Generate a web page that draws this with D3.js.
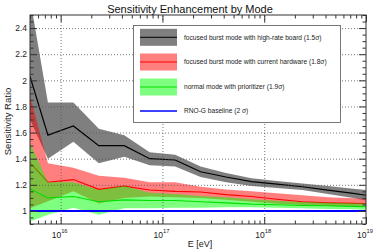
<!DOCTYPE html>
<html><head><meta charset="utf-8">
<script src="https://cdn.jsdelivr.net/npm/d3@7"></script>
<style>body{margin:0;background:#fff} svg{display:block;font-family:"Liberation Sans",Arial,sans-serif}</style>
</head><body><svg id="c" width="378" height="249"></svg>
<script>
// ---- data ----
const energies = [5e15, 7.5e15, 1.334e16, 2.371e16, 4.217e16, 7.499e16, 1.334e17, 2.371e17, 4.217e17, 7.499e17, 1.334e18, 2.371e18, 4.217e18, 7.499e18, 1e19];
const highRateCenter = [2.03, 1.58, 1.65, 1.50, 1.50, 1.40, 1.39, 1.30, 1.26, 1.225, 1.205, 1.185, 1.16, 1.135, 1.12];
const highRateUpper  = [2.63, 1.83, 1.83, 1.63, 1.58, 1.45, 1.43, 1.34, 1.29, 1.25, 1.23, 1.21, 1.19, 1.17, 1.16];
const highRateLower  = [1.70, 1.40, 1.53, 1.365, 1.415, 1.35, 1.34, 1.26, 1.22, 1.19, 1.175, 1.16, 1.13, 1.10, 1.08];
const currentCenter  = [1.37, 1.22, 1.24, 1.165, 1.19, 1.16, 1.15, 1.145, 1.125, 1.11, 1.09, 1.07, 1.062, 1.058, 1.057];
const currentUpper   = [1.88, 1.365, 1.33, 1.27, 1.255, 1.22, 1.22, 1.185, 1.165, 1.15, 1.135, 1.12, 1.105, 1.097, 1.093];
const currentLower   = [1.02, 1.075, 1.15, 1.057, 1.10, 1.11, 1.105, 1.10, 1.085, 1.07, 1.055, 1.045, 1.038, 1.033, 1.03];
const normalCenter   = [1.17, 1.10, 1.11, 1.07, 1.085, 1.08, 1.08, 1.07, 1.062, 1.052, 1.047, 1.042, 1.04, 1.035, 1.032];
const normalUpper    = [1.52, 1.22, 1.22, 1.16, 1.19, 1.14, 1.13, 1.115, 1.105, 1.09, 1.078, 1.068, 1.062, 1.058, 1.057];
const normalLower    = [0.92, 0.97, 1.025, 0.97, 1.02, 1.02, 1.025, 1.025, 1.028, 1.028, 1.025, 1.02, 1.015, 1.012, 1.01];
const baselineValue = 1.0;
const seriesNames = ["focused burst mode with high-rate board (1.5\u03c3)", "focused burst mode with current hardware (1.8\u03c3)", "normal mode with prioritizer (1.9\u03c3)", "RNO-G baseline (2 \u03c3)"];
const yMajor = [1.0, 1.2, 1.4, 1.6, 1.8, 2.0, 2.2, 2.4];
const yTickLabels = ["1", "1.2", "1.4", "1.6", "1.8", "2", "2.2", "2.4"];
const xMajor = [1e16, 1e17, 1e18, 1e19];
const xTickExponents = ["16", "17", "18", "19"];

// ---- setup ----
const svg = d3.select("#c");
const L = 30, R = 366, T = 15, B = 224;
const x = d3.scaleLog().domain([5e15, 1e19]).range([L, R]);
const y = d3.scaleLinear().domain([0.9, 2.5]).range([B, T]);

svg.append("rect").attr("width", 378).attr("height", 249).attr("fill", "#fff");
svg.append("defs").append("clipPath").attr("id", "clip")
  .append("rect").attr("x", L).attr("y", T).attr("width", R - L).attr("height", B - T);

const plot = svg.append("g").attr("clip-path", "url(#clip)");

function band(lo, hi, color) {
  const a = d3.area().x((d, i) => x(energies[i])).y0((d, i) => y(lo[i])).y1((d, i) => y(hi[i]));
  plot.append("path").datum(energies).attr("d", a).attr("fill", color).attr("fill-opacity", 0.5);
}
function line(vals, color, w) {
  const l = d3.line().x((d, i) => x(energies[i])).y((d, i) => y(vals[i]));
  plot.append("path").datum(energies).attr("d", l).attr("fill", "none").attr("stroke", color).attr("stroke-width", w);
}
band(highRateLower, highRateUpper, "#000");
line(highRateCenter, "#000", 1.2);
band(currentLower, currentUpper, "#ff0000");
line(currentCenter, "#ff0000", 1.1);
band(normalLower, normalUpper, "#00ff00");
line(normalCenter, "#00e000", 1.1);
plot.append("line").attr("x1", L).attr("x2", R).attr("y1", y(baselineValue)).attr("y2", y(baselineValue))
  .attr("stroke", "#0000ff").attr("stroke-width", 2);

// ---- grid ----
function styleGrid(g) { g.select(".domain").remove(); g.selectAll("line").attr("stroke", "#555").attr("stroke-width", 0.8).attr("stroke-dasharray", "1,2"); }
svg.append("g").attr("transform", `translate(${L},0)`)
  .call(d3.axisLeft(y).tickValues(yMajor.slice(1)).tickSize(-(R - L)).tickFormat("")).call(styleGrid);
svg.append("g").attr("transform", `translate(0,${B})`)
  .call(d3.axisBottom(x).tickValues(xMajor.slice(0, 3)).tickSize(-(B - T)).tickFormat("")).call(styleGrid);

// ---- axes ticks ----
const yMinor = d3.range(0.9, 2.5001, 0.05).filter(v => !yMajor.some(m => Math.abs(m - v) < 1e-6));
const xMinor = [];
[1e15, 1e16, 1e17, 1e18].forEach(d => { for (let k = 2; k <= 9; k++) { const v = d * k; if (v >= 5e15 && v <= 1e19) xMinor.push(v); } });

function styleAxis(g) { g.select(".domain").remove(); g.selectAll("line").attr("stroke", "#333").attr("stroke-width", 1); }
svg.append("g").attr("transform", `translate(${L},0)`)
  .call(d3.axisLeft(y).tickValues(yMajor).tickSize(-7).tickPadding(3).tickFormat((d, i) => yTickLabels[i]))
  .call(styleAxis)
  .call(g => g.selectAll("text").attr("font-size", 8.5).attr("fill", "#222").attr("font-family", "Liberation Sans, Arial, sans-serif"));
svg.append("g").attr("transform", `translate(${L},0)`)
  .call(d3.axisLeft(y).tickValues(yMinor).tickSize(-3.5).tickFormat("")).call(styleAxis);
svg.append("g").attr("transform", `translate(${R},0)`)
  .call(d3.axisRight(y).tickValues(yMajor).tickSize(-7).tickFormat("")).call(styleAxis);
svg.append("g").attr("transform", `translate(${R},0)`)
  .call(d3.axisRight(y).tickValues(yMinor).tickSize(-3.5).tickFormat("")).call(styleAxis);
svg.append("g").attr("transform", `translate(0,${B})`)
  .call(d3.axisBottom(x).tickValues(xMajor).tickSize(-7).tickFormat("")).call(styleAxis);
svg.append("g").attr("transform", `translate(0,${B})`)
  .call(d3.axisBottom(x).tickValues(xMinor).tickSize(-3.5).tickFormat("")).call(styleAxis);
svg.append("g").attr("transform", `translate(0,${T})`)
  .call(d3.axisTop(x).tickValues(xMajor).tickSize(-7).tickFormat("")).call(styleAxis);
svg.append("g").attr("transform", `translate(0,${T})`)
  .call(d3.axisTop(x).tickValues(xMinor).tickSize(-3.5).tickFormat("")).call(styleAxis);

// x tick labels with superscripts
xMajor.forEach((v, i) => {
  const t = svg.append("text").attr("x", x(v) - 1).attr("y", 237.5).attr("text-anchor", "middle")
    .attr("font-size", 8.5).attr("fill", "#222");
  t.append("tspan").text("10");
  t.append("tspan").attr("dy", -4.5).attr("font-size", 5.8).text(xTickExponents[i]);
});

// frame
svg.append("rect").attr("x", L).attr("y", T).attr("width", R - L).attr("height", B - T)
  .attr("fill", "none").attr("stroke", "#333").attr("stroke-width", 1);

// titles
svg.append("text").attr("x", 190).attr("y", 12.5).attr("text-anchor", "middle").attr("font-size", 11)
  .attr("fill", "#111").text("Sensitivity Enhancement by Mode");
svg.append("text").attr("transform", "translate(11,121.5) rotate(-90)").attr("text-anchor", "middle")
  .attr("font-size", 9.5).attr("fill", "#222").text("Sensitivity Ratio");
svg.append("text").attr("x", 200).attr("y", 246.5).attr("text-anchor", "middle")
  .attr("font-size", 9).attr("fill", "#222").text("E [eV]");

// ---- legend ----
const lg = svg.append("g");
lg.append("rect").attr("x", 133.5).attr("y", 25.5).attr("width", 207).attr("height", 97)
  .attr("fill", "#fff").attr("stroke", "#555").attr("stroke-width", 0.8);
const legendColors = [["#000", "#000"], ["#ff0000", "#ff0000"], ["#00ff00", "#00e000"]];
const legendY = [37.3, 62, 87, 111];
legendColors.forEach((c, i) => {
  lg.append("rect").attr("x", 140).attr("y", legendY[i] - 8.5).attr("width", 37).attr("height", 17)
    .attr("fill", c[0]).attr("fill-opacity", 0.5);
  lg.append("line").attr("x1", 140).attr("x2", 177).attr("y1", legendY[i]).attr("y2", legendY[i])
    .attr("stroke", c[1]).attr("stroke-width", 1);
});
lg.append("line").attr("x1", 140).attr("x2", 177).attr("y1", legendY[3]).attr("y2", legendY[3])
  .attr("stroke", "#0000ff").attr("stroke-width", 1.5);
seriesNames.forEach((s, i) => {
  lg.append("text").attr("x", 184).attr("y", legendY[i] + 2.4).attr("font-size", 6.6).attr("fill", "#222").text(s);
});
</script></body></html>
